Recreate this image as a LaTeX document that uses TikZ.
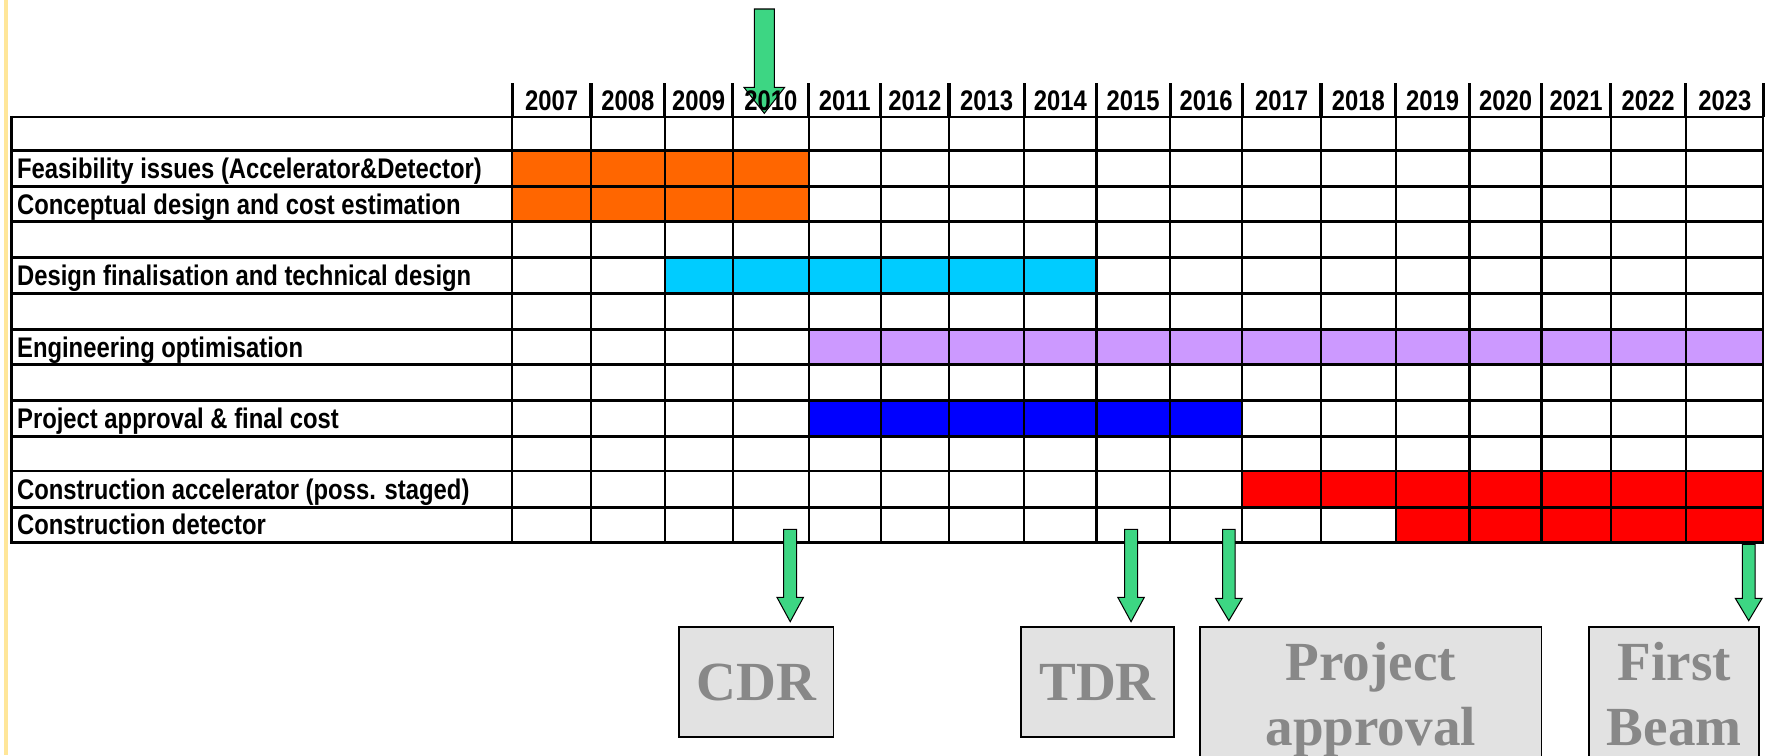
\documentclass[tikz,border=0pt]{standalone}
\usepackage{fontspec}
\setmainfont{Liberation Sans}
\newfontfamily\gridfont[FakeStretch=0.84]{Liberation Sans}
\newfontfamily\boxfont{Liberation Serif}
\usetikzlibrary{calc}

\definecolor{feasorange}{HTML}{FF6600}
\definecolor{designcyan}{HTML}{00CCFF}
\definecolor{englilac}{HTML}{CC99FF}
\definecolor{approvblue}{HTML}{0000FF}
\definecolor{constrred}{HTML}{FF0000}
\definecolor{mstgreen}{HTML}{3DD683}
\definecolor{mstfill}{HTML}{E2E2E2}
\definecolor{msttext}{HTML}{888888}
\definecolor{slideyellow}{HTML}{FFE699}

\tikzset{
  gantt/.style={
    task/.style={font=\gridfont\bfseries\fontsize{25.2bp}{29bp}\selectfont,
        inner sep=0pt, anchor=base west},
    milestone/.style={
        draw=black,
        line width=1.5bp,
        fill=mstfill,
        text=msttext,
        font=\boxfont\bfseries\fontsize{49bp}{57.8bp}\selectfont,
        align=center,
        inner sep=0pt,
        anchor=north,
    },
    mstarrow/.style={draw=black, line width=0.9bp, fill=mstgreen},
  }
}

\newcommand{\milestonearrow}[6]{
    \draw[mstarrow] let \p1=(#1), \p2=(#2) in
        (\x1-#4,\y1) -- (\x1+#4,\y1) -- (\x1+#4,\y2+#3+#6) -- (\x1+#5,\y2+#3+#6)
        -- (\x1,\y2+#3) -- (\x1-#5,\y2+#3+#6) -- (\x1-#4,\y2+#3+#6) -- cycle;
}

\begin{document}
\begin{tikzpicture}[x=1bp, y=-1bp, gantt]
            \tikzstyle{year}=[font=\gridfont\bfseries\fontsize{25.2bp}{29bp}\selectfont, inner sep=0pt, anchor=base]
            \path[use as bounding box, clip] (0,0) rectangle (1568,671);
            \fill[white] (0,0) rectangle (1568,671);
            \fill[slideyellow] (3.9,0) rectangle (7.4,671);

            \fill[feasorange] (455,134) rectangle (718.5,197);
            \fill[designcyan] (590.5,229) rectangle (974,260.5);
            \fill[englilac] (718.5,292.5) rectangle (1567,324);
            \fill[approvblue] (718.5,355.5) rectangle (1103.5,387.5);
            \fill[constrred] (1103.5,418.5) rectangle (1567,450.5);
            \fill[constrred] (1240,450.5) rectangle (1567,482);

            \coordinate (now) at (679,8);
            \coordinate (y2010) at (684.75,98.3);
            \coordinate (cdrmark) at (702,470.3);
            \coordinate (tdrmark) at (1004.8,470.3);
            \coordinate (pamark) at (1091.7,470.3);
            \coordinate (fbmark) at (1553.5,483.5);

            \draw[line width=2.5bp] (10,104) -- (1567,104) (10,134) -- (1567,134) (10,165.5) -- (1567,165.5)
                (10,197) -- (1567,197) (10,229) -- (1567,229) (10,260.5) -- (1567,260.5)
                (10,292.5) -- (1567,292.5) (10,324) -- (1567,324) (10,355.5) -- (1567,355.5)
                (10,387.5) -- (1567,387.5) (10,418.5) -- (1567,418.5) (10,450.5) -- (1567,450.5)
                (10,482) -- (1567,482);
            \draw[line width=2.6bp] (10,103) -- (10,483);
            \draw[line width=2bp] (455,104) -- (455,482) (525,104) -- (525,482) (590.5,104) -- (590.5,482)
                (651,104) -- (651,482) (718.5,104) -- (718.5,482) (782.5,104) -- (782.5,482)
                (843,104) -- (843,482) (910,104) -- (910,482) (974,104) -- (974,482)
                (1039.5,104) -- (1039.5,482) (1103.5,104) -- (1103.5,482) (1173.5,104) -- (1173.5,482)
                (1240,104) -- (1240,482) (1305.5,104) -- (1305.5,482) (1369.5,104) -- (1369.5,482)
                (1431,104) -- (1431,482) (1497.5,104) -- (1497.5,482) (1566.5,104) -- (1566.5,482);
            \draw[line width=2.8bp] (455,74) -- (455,104) (525,74) -- (525,104) (590.5,74) -- (590.5,104)
                (651,74) -- (651,104) (718.5,74) -- (718.5,104) (782.5,74) -- (782.5,104)
                (843,74) -- (843,104) (910,74) -- (910,104) (974,74) -- (974,104)
                (1039.5,74) -- (1039.5,104) (1103.5,74) -- (1103.5,104) (1173.5,74) -- (1173.5,104)
                (1240,74) -- (1240,104) (1305.5,74) -- (1305.5,104) (1369.5,74) -- (1369.5,104)
                (1431,74) -- (1431,104) (1497.5,74) -- (1497.5,104) (1566.5,74) -- (1566.5,104);

            \milestonearrow{now}{y2010}{-2.4bp}{8.85bp}{18bp}{23bp}

            \node[year] (Y07) at (490,98.3) {2007};
            \node[year] (Y08) at (557.75,98.3) {2008};
            \node[year] (Y09) at (620.75,98.3) {2009};
            \node[year] (Y10) at (y2010) {2010};
            \node[year] (Y11) at (750.5,98.3) {2011};
            \node[year] (Y12) at (812.75,98.3) {2012};
            \node[year] (Y13) at (876.5,98.3) {2013};
            \node[year] (Y14) at (942,98.3) {2014};
            \node[year] (Y15) at (1006.75,98.3) {2015};
            \node[year] (Y16) at (1071.5,98.3) {2016};
            \node[year] (Y17) at (1138.5,98.3) {2017};
            \node[year] (Y18) at (1206.75,98.3) {2018};
            \node[year] (Y19) at (1272.75,98.3) {2019};
            \node[year] (Y20) at (1337.5,98.3) {2020};
            \node[year] (Y21) at (1400.25,98.3) {2021};
            \node[year] (Y22) at (1464.25,98.3) {2022};
            \node[year] (Y23) at (1532.25,98.3) {2023};

            \node[task] (T1) at (15,158.8) {Feasibility issues (Accelerator\&Detector)};
            \node[task] (T2) at (15,190.3) {Conceptual design and cost estimation};
            \node[task] (T3) at (15,253.8) {Design finalisation and technical design};
            \node[task] (T4) at (15,317.3) {Engineering optimisation};
            \node[task] (T5) at (15,380.5) {Project approval \& final cost};
            \node[task] (T6) at (15,443.5) {Construction accelerator (poss. staged)};
            \node[task] (T7) at (15,475.2) {Construction detector};

            \node[milestone, minimum width=137bp, minimum height=97.4bp] (CDR) at (671.9,556.5) {CDR};
            \node[milestone, minimum width=136bp, minimum height=97.4bp] (TDR) at (975,556.5) {TDR};
            \node[milestone, minimum width=303.4bp, minimum height=128bp] (PA) at (1217.7,556.5) {Project\\approval};
            \node[milestone, minimum width=150.8bp, minimum height=118bp] (FB) at (1487.3,556.5) {First\\Beam};

            \milestonearrow{cdrmark}{CDR.north}{4.2bp}{5.8bp}{11.75bp}{21.6bp}
            \milestonearrow{tdrmark}{TDR.north}{4.2bp}{5.8bp}{11.75bp}{21.6bp}
            \milestonearrow{pamark}{PA.north}{5.1bp}{5.6bp}{11.85bp}{19.8bp}
            \milestonearrow{fbmark}{FB.north}{5.1bp}{5.6bp}{11.85bp}{19.8bp}

        \end{tikzpicture}
\end{document}
